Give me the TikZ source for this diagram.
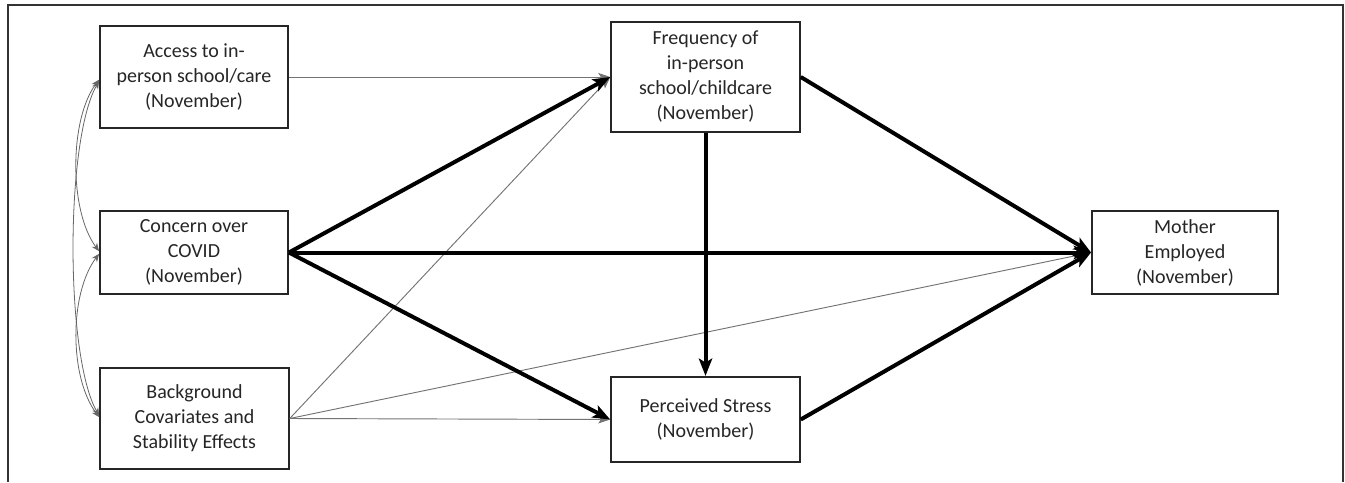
\documentclass[tikz,border=0pt]{standalone}
\usepackage{fontspec}
\setmainfont{Carlito}
\usetikzlibrary{arrows.meta}
\begin{document}
\begin{tikzpicture}[x=0.75pt,y=-0.75pt,
  box/.style={draw=black!85,line width=1.4pt,fill=white,align=center,
    font=\fontsize{15}{18.75}\selectfont,text=black!85,inner sep=2pt},
  thick path/.style={line width=3pt,black,-{Stealth[length=13pt,width=10pt,inset=3pt]}},
  thin path/.style={line width=0.7pt,black!55,-{Stealth[length=9pt,width=6pt,inset=2pt]}},
  corr/.style={line width=0.6pt,black!60,{Stealth[length=6pt,width=5pt]}-{Stealth[length=6pt,width=5pt]}}]
\useasboundingbox (0,0) rectangle (1345,482);
% outer frame, open at the bottom
\draw[black!80,line width=1pt] (8,482) -- (8,5) -- (1343,5) -- (1343,482);

% variables
\node[box,minimum width=141pt,minimum height=76.5pt] (A) at (194,77)
  {Access to in-\\person school/care\\(November)};
\node[box,minimum width=141pt,minimum height=62pt] (C) at (194,252.5)
  {Concern over\\COVID\\(November)};
\node[box,minimum width=141.5pt,minimum height=76pt] (B) at (194.5,418.5)
  {Background\\Covariates and\\Stability Effects};
\node[box,minimum width=141.5pt,minimum height=82.5pt] (F) at (705.5,77)
  {Frequency of\\in-person\\school/childcare\\(November)};
\node[box,minimum width=141.5pt,minimum height=64pt] (P) at (705.5,419.5)
  {Perceived Stress\\(November)};
\node[box,minimum width=139.5pt,minimum height=62pt] (M) at (1185,252.5)
  {Mother\\Employed\\(November)};

% correlations among exogenous variables
\draw[corr] ([yshift=-2pt]A.west) .. controls +(-30,40) and +(-30,-40) .. ([yshift=1pt]C.west);
\draw[corr] ([yshift=-1pt]C.west) .. controls +(-30,40) and +(-30,-40) .. ([yshift=1pt]B.west);
\draw[corr] ([yshift=-3pt]A.west) .. controls +(-34,60) and +(-34,-60) .. ([yshift=2pt]B.west);

% thin (non-significant) paths
\draw[thin path] (A.east) -- (F.west);
\draw[thin path] (B.east) -- (F.west);
\draw[thin path] (B.east) -- (P.west);
\draw[thin path] (B.east) -- (M.west);

% thick (significant) paths
\draw[thick path] (C.east) -- (F.west);
\draw[thick path] (C.east) -- (M.west);
\draw[thick path] (C.east) -- (P.west);
\draw[thick path] (F.east) -- (M.west);
\draw[thick path] (F.south) -- (P.north);
\draw[thick path] (P.east) -- (M.west);
\end{tikzpicture}
\end{document}
